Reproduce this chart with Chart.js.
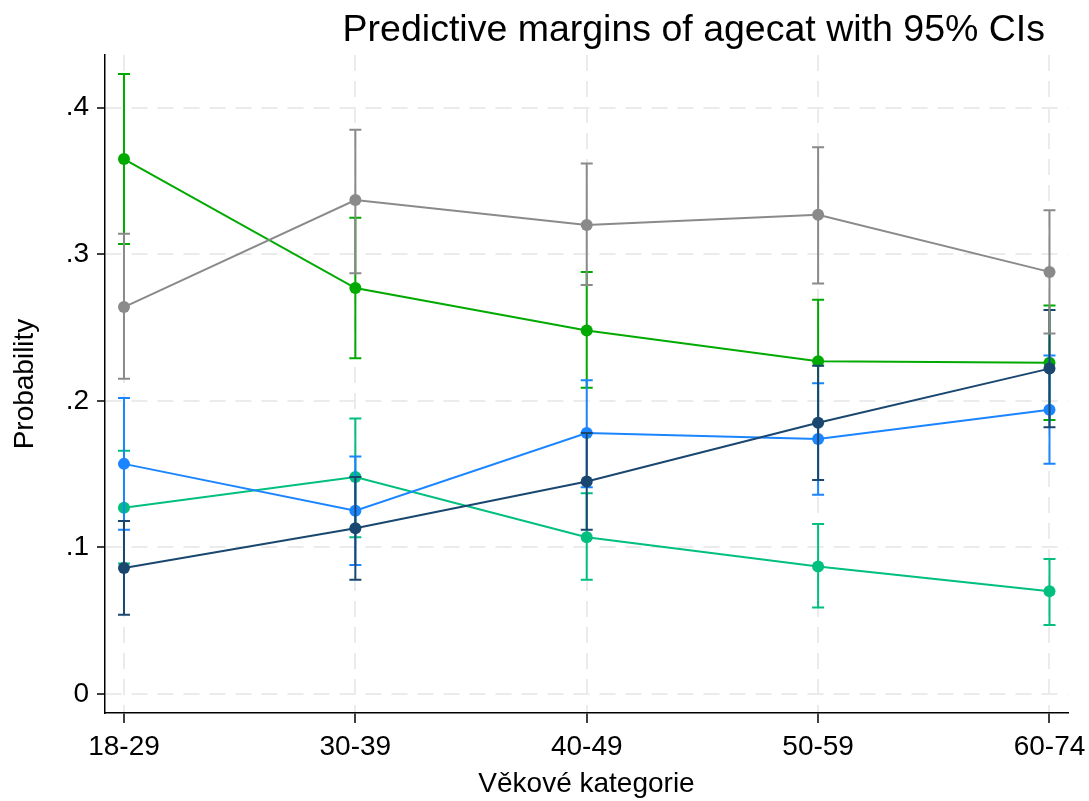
<!DOCTYPE html>
<html>
<head>
<meta charset="utf-8">
<script src="https://cdn.jsdelivr.net/npm/chart.js@4.4.1/dist/chart.umd.min.js"></script>
<style>
body { margin: 0; background: #fff; }
canvas { display: block; }
</style>
</head>
<body>
<canvas id="chart" width="1089" height="801"></canvas>
<script>
// age categories on the x axis
const categories = ['18-29', '30-39', '40-49', '50-59', '60-74'];
const yTicks = [0, 0.1, 0.2, 0.3, 0.4];
const yTickLabels = ['0', '.1', '.2', '.3', '.4'];

// margins and 95% CI bounds, one set per outcome line
const grayMean = [0.264, 0.337, 0.320, 0.327, 0.288];
const grayLo   = [0.215, 0.287, 0.279, 0.280, 0.246];
const grayHi   = [0.314, 0.385, 0.362, 0.373, 0.330];

const navyMean = [0.086, 0.113, 0.145, 0.185, 0.222];
const navyLo   = [0.054, 0.078, 0.112, 0.146, 0.182];
const navyHi   = [0.118, 0.148, 0.178, 0.224, 0.262];

const blueMean = [0.157, 0.125, 0.178, 0.174, 0.194];
const blueLo   = [0.112, 0.088, 0.141, 0.136, 0.157];
const blueHi   = [0.202, 0.162, 0.214, 0.212, 0.231];

const tealMean = [0.127, 0.148, 0.107, 0.087, 0.070];
const tealLo   = [0.089, 0.107, 0.078, 0.059, 0.047];
const tealHi   = [0.166, 0.188, 0.137, 0.116, 0.092];

const greenMean = [0.365, 0.277, 0.248, 0.227, 0.226];
const greenLo   = [0.307, 0.229, 0.209, 0.185, 0.187];
const greenHi   = [0.423, 0.325, 0.288, 0.269, 0.265];

const font = '"Liberation Sans", Arial, sans-serif';

function makeSet(mean, lo, hi, color) {
  return {
    data: mean.map((v, i) => ({ x: i, y: v })),
    lo: lo,
    hi: hi,
    borderColor: color,
    backgroundColor: color,
    borderWidth: 2,
    pointRadius: 6,
    pointBorderWidth: 0,
    pointBackgroundColor: color,
    tension: 0
  };
}

// draws the CI caps of a dataset just before its line
const errorBars = {
  id: 'errorBars',
  beforeDatasetDraw(chart, args) {
    const ds = chart.data.datasets[args.index];
    const xs = chart.scales.x;
    const ys = chart.scales.y;
    const ctx = chart.ctx;
    ctx.save();
    ctx.strokeStyle = ds.borderColor;
    ctx.lineWidth = 2;
    ds.lo.forEach((lo, i) => {
      const px = xs.getPixelForValue(i);
      const y1 = ys.getPixelForValue(lo);
      const y2 = ys.getPixelForValue(ds.hi[i]);
      ctx.beginPath();
      ctx.moveTo(px, y1);
      ctx.lineTo(px, y2);
      ctx.moveTo(px - 6, y1);
      ctx.lineTo(px + 6, y1);
      ctx.moveTo(px - 6, y2);
      ctx.lineTo(px + 6, y2);
      ctx.stroke();
    });
    ctx.restore();
  }
};

const titleText = {
  id: 'titleText',
  afterDraw(chart) {
    const ctx = chart.ctx;
    ctx.save();
    ctx.fillStyle = '#000';
    ctx.font = '37.5px ' + font;
    ctx.textAlign = 'right';
    ctx.textBaseline = 'alphabetic';
    ctx.fillText('Predictive margins of agecat with 95% CIs', chart.width - 44, 41);
    ctx.restore();
  }
};

const ctx = document.getElementById('chart').getContext('2d');
const myChart = new Chart(ctx, {
  type: 'line',
  data: {
    datasets: [
      makeSet(grayMean, grayLo, grayHi, '#8a8a8a'),
      makeSet(navyMean, navyLo, navyHi, '#1a476f'),
      makeSet(blueMean, blueLo, blueHi, '#1a85ff'),
      makeSet(tealMean, tealLo, tealHi, '#00bf7f'),
      makeSet(greenMean, greenLo, greenHi, '#00aa00')
    ]
  },
  options: {
    responsive: false,
    devicePixelRatio: 1,
    animation: false,
    layout: { padding: { top: 55, right: 21, left: 0, bottom: 0 } },
    plugins: {
      legend: { display: false },
      tooltip: { enabled: false },
      title: { display: false }
    },
    scales: {
      x: {
        type: 'linear',
        min: -0.082,
        max: 4.08,
        afterBuildTicks: s => { s.ticks = categories.map((c, i) => ({ value: i })); },
        afterFit: s => { s.height = 88; s.paddingLeft = 0; s.paddingRight = 0; },
        ticks: {
          autoSkip: false,
          maxRotation: 0,
          color: '#000',
          padding: 7,
          font: { family: font, size: 28 },
          callback: (v) => categories[v]
        },
        grid: { color: '#ebebeb', lineWidth: 2, tickColor: '#000', tickWidth: 1.5, tickLength: 10 },
        border: { color: '#000', width: 1.5, dash: [16, 10] },
        title: {
          display: true,
          text: 'Věkové kategorie',
          color: '#000',
          font: { family: font, size: 28 },
          padding: { top: 0, bottom: 0 }
        }
      },
      y: {
        min: -0.013,
        max: 0.436,
        afterBuildTicks: s => { s.ticks = yTicks.map(v => ({ value: v })); },
        afterFit: s => { s.width = 105; },
        ticks: {
          color: '#000',
          padding: 8,
          font: { family: font, size: 28 },
          callback: (v, i) => yTickLabels[i]
        },
        grid: { color: '#ebebeb', lineWidth: 2, tickColor: '#000', tickWidth: 1.5, tickLength: 8 },
        border: { color: '#000', width: 1.5, dash: [16, 10] },
        title: {
          display: true,
          text: 'Probability',
          color: '#000',
          font: { family: font, size: 28 },
          padding: { top: 8, bottom: 0 }
        }
      }
    }
  },
  plugins: [errorBars, titleText]
});
</script>
</body>
</html>
